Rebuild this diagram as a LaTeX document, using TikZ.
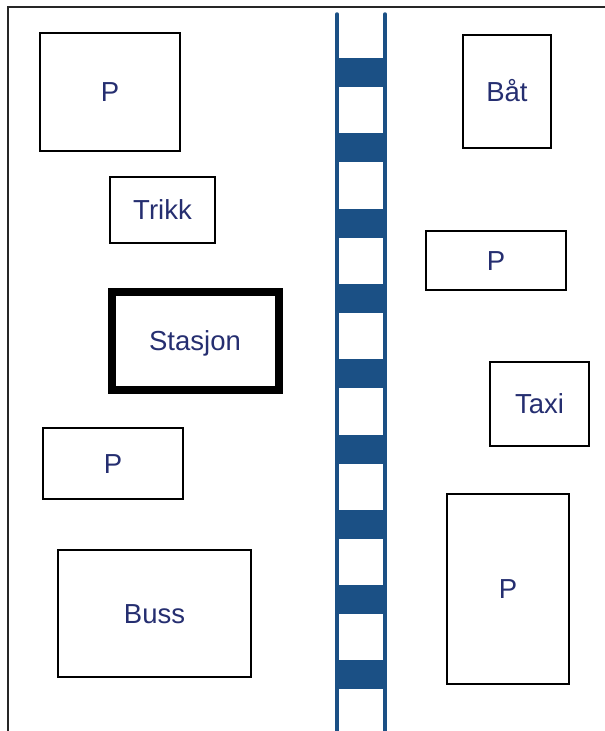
\documentclass[tikz,border=0pt]{standalone}
\usepackage{fontspec}
\setmainfont{Liberation Sans}
\definecolor{labelblue}{RGB}{37,46,112}
\definecolor{trackblue}{RGB}{27,80,133}

\begin{document}
\begin{tikzpicture}[x=1pt, y=-1pt,
		area/.style={draw, line width=2pt, text=labelblue, font=\fontsize{27.5}{32}\selectfont, inner sep=0pt, text height=19.7pt, text depth=0pt},
		rail/.style={trackblue, line width=3.5pt, line cap=round}]
		\useasboundingbox (0,0) rectangle (605,731);
		\draw[line width=1.5pt, black!85] (8,731) -- (8,7) -- (605,7);
		\foreach \i in {0,...,8}
			\fill[trackblue] (337,58+75.3*\i) rectangle (385,87+75.3*\i);
		\draw[rail] (337,14) -- (337,735);
		\draw[rail] (385,14) -- (385,735);
		\node[area, minimum width=140, minimum height=118] (parkA) at (110,91.5) {P};
		\node[area, minimum width=105, minimum height=66] (trikk) at (162.5,210) {Trikk};
		\node[area, line width=8pt, minimum width=167, minimum height=97.5] (stasjon) at (195,341) {Stasjon};
		\node[area, minimum width=140, minimum height=71] (parkB) at (113,463.5) {P};
		\node[area, minimum width=193, minimum height=127] (buss) at (154.5,613.5) {Buss};
		\node[area, minimum width=88, minimum height=113] (baat) at (507,91.5) {Båt};
		\node[area, minimum width=140, minimum height=59] (parkC) at (496,260.5) {P};
		\node[area, minimum width=99, minimum height=84] (taxi) at (539.5,404) {Taxi};
		\node[area, minimum width=122, minimum height=190] (parkD) at (508,589) {P};
\end{tikzpicture}
\end{document}
